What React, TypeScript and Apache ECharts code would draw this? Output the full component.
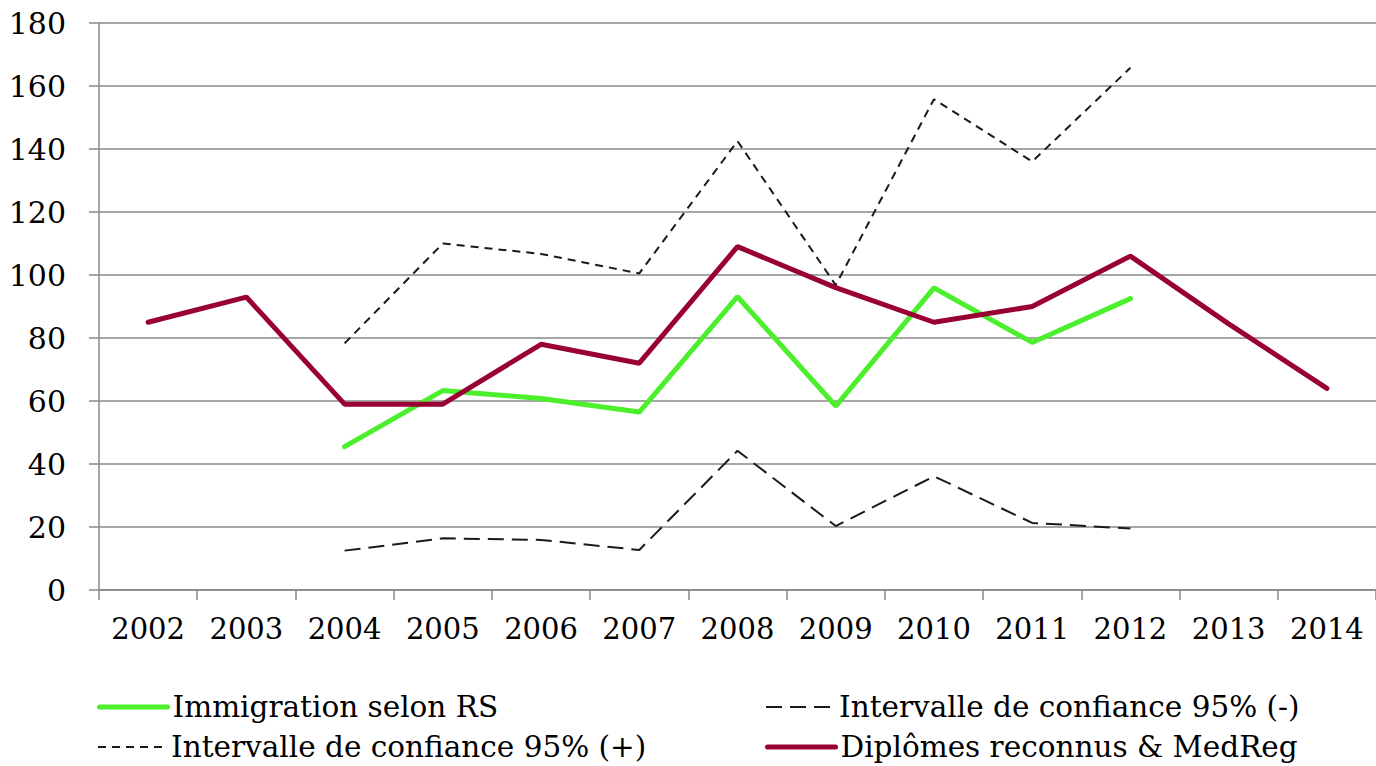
import React, { useEffect, useRef } from "react";
import * as echarts from "echarts";

const years = ["2002","2003","2004","2005","2006","2007","2008","2009","2010","2011","2012","2013","2014"];
const immigrationRS = [null, null, 45.5, 63.3, 60.8, 56.5, 93.1, 58.4, 95.9, 78.6, 92.5, null, null];
const ciLower = [null, null, 12.5, 16.4, 15.9, 12.7, 44.2, 20.3, 36.1, 21.3, 19.5, null, null];
const ciUpper = [null, null, 78.3, 110, 106.7, 100.5, 142.5, 96.8, 155.8, 136, 165.8, null, null];
const diplomes = [85, 93, 59, 59, 78, 72, 109, 96, 85, 90, 106, 84.5, 64];

const NAME_RS = "Immigration selon RS";
const NAME_LO = "Intervalle de confiance 95% (-)";
const NAME_HI = "Intervalle de confiance 95% (+)";
const NAME_DIP = "Diplômes reconnus & MedReg";

const FONT = "DejaVu Serif";
const GREEN = "#4cef2c";
const RED = "#990033";
const DARK = "#1a1a1a";

export default function App() {
  const ref = useRef<HTMLDivElement>(null);
  useEffect(() => {
    if (!ref.current) return;
    const chart = echarts.init(ref.current, null, { renderer: "svg" });
    const legendBase = {
      orient: "horizontal",
      itemWidth: 68,
      itemHeight: 14,
      itemGap: 0,
      textStyle: { fontFamily: FONT, fontSize: 29.5, color: "#000" },
      itemStyle: { opacity: 0 },
      padding: 0,
    };
    chart.setOption({
      animation: false,
      grid: { left: 99, top: 23, width: 1290, height: 567, containLabel: false },
      xAxis: {
        type: "category",
        data: years,
        boundaryGap: true,
        axisLine: { show: true, lineStyle: { color: "#888", width: 1.5 } },
        axisTick: { show: true, interval: 0, length: 10, lineStyle: { color: "#888", width: 1.5 } },
        axisLabel: { interval: 0, fontFamily: FONT, fontSize: 29, color: "#000", margin: 24 },
        splitLine: { show: false },
      },
      yAxis: {
        type: "value",
        min: 0,
        max: 180,
        interval: 20,
        axisLine: { show: true, lineStyle: { color: "#888", width: 1.5 } },
        axisTick: { show: true, length: 10, lineStyle: { color: "#888", width: 1.5 } },
        axisLabel: { fontFamily: FONT, fontSize: 30, color: "#000", margin: 33 },
        splitLine: { show: true, lineStyle: { color: "#888", width: 1.5 } },
      },
      legend: [
        { ...legendBase, data: [NAME_RS], left: 97, top: 692, lineStyle: { width: 5 } },
        { ...legendBase, data: [NAME_LO], left: 765, top: 692, lineStyle: { width: 2 } },
        { ...legendBase, data: [NAME_HI], left: 97, top: 732, lineStyle: { width: 2 } },
        { ...legendBase, data: [NAME_DIP], left: 765, top: 732, lineStyle: { width: 5 } },
      ],
      series: [
        {
          name: NAME_RS,
          type: "line",
          data: immigrationRS,
          symbol: "none",
          lineStyle: { color: GREEN, width: 5, cap: "round" },
          itemStyle: { color: GREEN },
          z: 3,
        },
        {
          name: NAME_LO,
          type: "line",
          data: ciLower,
          symbol: "none",
          lineStyle: { color: DARK, width: 2, type: [16, 8] },
          itemStyle: { color: DARK },
          z: 2,
        },
        {
          name: NAME_HI,
          type: "line",
          data: ciUpper,
          symbol: "none",
          lineStyle: { color: DARK, width: 2, type: [8, 6] },
          itemStyle: { color: DARK },
          z: 2,
        },
        {
          name: NAME_DIP,
          type: "line",
          data: diplomes,
          symbol: "none",
          lineStyle: { color: RED, width: 5, cap: "round" },
          itemStyle: { color: RED },
          z: 4,
        },
      ],
    });
    return () => chart.dispose();
  }, []);
  return (
    <div
      ref={ref}
      style={{ position: "fixed", left: 0, top: 0, width: 1376, height: 766, background: "#fff" }}
    />
  );
}
